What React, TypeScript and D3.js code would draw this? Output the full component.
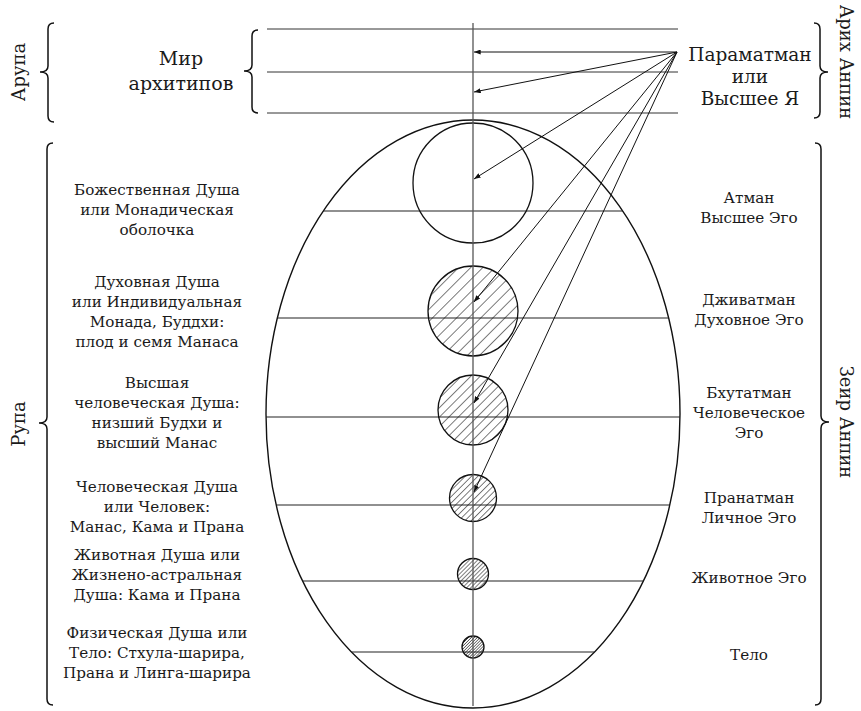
import * as d3 from 'd3'

// left column descriptions (one entry per level, lines split)
const soulLabels: string[][] = [
  ['Божественная Душа', 'или Монадическая', 'оболочка'],
  ['Духовная Душа', 'или Индивидуальная', 'Монада, Буддхи:', 'плод и семя Манаса'],
  ['Высшая', 'человеческая Душа:', 'низший Будхи и', 'высший Манас'],
  ['Человеческая Душа', 'или Человек:', 'Манас, Кама и Прана'],
  ['Животная Душа или', 'Жизнено-астральная', 'Душа: Кама и Прана'],
  ['Физическая Душа или', 'Тело: Стхула-шарира,', 'Прана и Линга-шарира'],
]
const egoLabels: string[][] = [
  ['Атман', 'Высшее Эго'],
  ['Дживатман', 'Духовное Эго'],
  ['Бхутатман', 'Человеческое', 'Эго'],
  ['Пранатман', 'Личное Эго'],
  ['Животное Эго'],
  ['Тело'],
]
// relative size of each sphere, hatched = filled with lines
const sphereSize = [60, 45, 35, 23.5, 15.5, 11]
const sphereHatched = [false, true, true, true, true, true]
// which spheres receive a ray from Paramatman
const rayTargets = [0, 1, 2, 3]

const archetypeLines = ['Мир', 'архитипов']
const sourceLines = ['Параматман', 'или', 'Высшее Я']
const groups = { arupa: 'Арупа', rupa: 'Рупа', arikh: 'Арих Анпин', zeir: 'Зеир Анпин' }

const W = 861
const H = 711
const FONT = '"DejaVu Serif", serif'

// layout
const cx = 473
const ell = { cy: 414, rx: 207, ry: 294 }
const chordY = [211, 318, 417, 505, 581, 652]
const sphereY = [183, 311, 410, 498, 574, 647]
const rayTipY = [179, 302, 403, 492]
const topLineY = [29, 72, 113]
const topArrowY = [52, 92]
const src = { x: 677, y: 52 }
const soulY = [195, 287, 388, 492, 560, 638]
const egoY = [203, 305, 398, 503, 583, 660]

const chordHalf = (y: number) => ell.rx * Math.sqrt(Math.max(0, 1 - ((y - ell.cy) / ell.ry) ** 2))

// curly brace; dir -1 points left, +1 points right
const brace = (x: number, y0: number, y1: number, tipY: number, dir: number) => {
  const p = d3.path()
  const c = 6
  const t = 8 * dir
  p.moveTo(x - dir * c, y0)
  p.quadraticCurveTo(x, y0, x, y0 + c)
  p.lineTo(x, tipY - c)
  p.quadraticCurveTo(x, tipY, x + t, tipY)
  p.quadraticCurveTo(x, tipY, x, tipY + c)
  p.lineTo(x, y1 - c)
  p.quadraticCurveTo(x, y1, x - dir * c, y1)
  return p.toString()
}

const Lines = ({ x, y, lines, size, lh }: { x: number; y: number; lines: string[]; size: number; lh: number }) => (
  <text x={x} y={y} fontSize={size} textAnchor="middle" fill="#1a1a1a" fontFamily={FONT}>
    {lines.map((l, i) => (
      <tspan key={i} x={x} y={y + i * lh}>{l}</tspan>
    ))}
  </text>
)

const Rot = ({ x, y, a, label }: { x: number; y: number; a: number; label: string }) => (
  <text transform={`translate(${x},${y}) rotate(${a})`} textAnchor="middle" fontSize={18} fontFamily={FONT} fill="#1a1a1a">{label}</text>
)

const App = () => {
  return (
    <svg width={W} height={H} style={{ position: 'absolute', left: 0, top: 0, background: '#fff' }}>
      <defs>
        <marker id="ah" viewBox="0 0 8 6" refX={8} refY={3} markerWidth={7} markerHeight={5} orient="auto" markerUnits="userSpaceOnUse">
          <path d="M0,0 L8,3 L0,6 z" fill="#111" />
        </marker>
        {sphereSize.map((r, i) => {
          const s = r * 0.19
          return (
            <pattern key={i} id={`hatch${i}`} width={s} height={s} patternUnits="userSpaceOnUse" patternTransform="rotate(45)">
              <line x1={0} y1={0} x2={0} y2={s} stroke="#111" strokeWidth={1.1} />
            </pattern>
          )
        })}
      </defs>

      {/* top world of archetypes */}
      {topLineY.map((y, i) => (
        <line key={i} x1={267} x2={678} y1={y} y2={y} stroke="#333" strokeWidth={1} />
      ))}

      {/* ellipse and chords */}
      <ellipse cx={cx} cy={ell.cy} rx={ell.rx} ry={ell.ry} fill="none" stroke="#111" strokeWidth={1.4} />
      {chordY.map((y, i) => {
        const h = chordHalf(y)
        return <line key={i} x1={cx - h} x2={cx + h} y1={y} y2={y} stroke="#222" strokeWidth={1.1} />
      })}

      {/* spheres */}
      {sphereSize.map((r, i) => (
        <circle key={i} cx={cx} cy={sphereY[i]} r={r} fill={sphereHatched[i] ? `url(#hatch${i})` : 'none'} stroke="#111" strokeWidth={1.3} />
      ))}

      {/* vertical axis */}
      <line x1={cx} x2={cx} y1={23} y2={706} stroke="#555" strokeWidth={1.3} />

      {/* rays from Paramatman */}
      {topArrowY.map((y, i) => (
        <line key={`t${i}`} x1={src.x} y1={src.y} x2={cx + 1} y2={y} stroke="#111" strokeWidth={1} markerEnd="url(#ah)" />
      ))}
      {rayTargets.map(k => (
        <line key={`r${k}`} x1={src.x} y1={src.y} x2={cx + 1} y2={rayTipY[k]} stroke="#111" strokeWidth={1} markerEnd="url(#ah)" />
      ))}

      {/* braces */}
      <path d={brace(48, 23, 122, 72, -1)} fill="none" stroke="#111" strokeWidth={1.5} />
      <path d={brace(252, 30, 113, 71, -1)} fill="none" stroke="#111" strokeWidth={1.5} />
      <path d={brace(820, 23, 118, 72, 1)} fill="none" stroke="#111" strokeWidth={1.5} />
      <path d={brace(47, 143, 705, 423, -1)} fill="none" stroke="#111" strokeWidth={1.5} />
      <path d={brace(821, 143, 705, 422, 1)} fill="none" stroke="#111" strokeWidth={1.5} />

      {/* group names */}
      <Rot x={25} y={72} a={-90} label={groups.arupa} />
      <Rot x={25} y={424} a={-90} label={groups.rupa} />
      <Rot x={840} y={62} a={90} label={groups.arikh} />
      <Rot x={840} y={422} a={90} label={groups.zeir} />

      <Lines x={181} y={65} lines={archetypeLines} size={19} lh={25} />
      <Lines x={750} y={61} lines={sourceLines} size={18.5} lh={22} />

      {soulLabels.map((ls, i) => (
        <Lines key={i} x={157} y={soulY[i]} lines={ls} size={15.2} lh={20} />
      ))}
      {egoLabels.map((ls, i) => (
        <Lines key={i} x={749} y={egoY[i]} lines={ls} size={15.2} lh={20} />
      ))}
    </svg>
  )
}

export default App
